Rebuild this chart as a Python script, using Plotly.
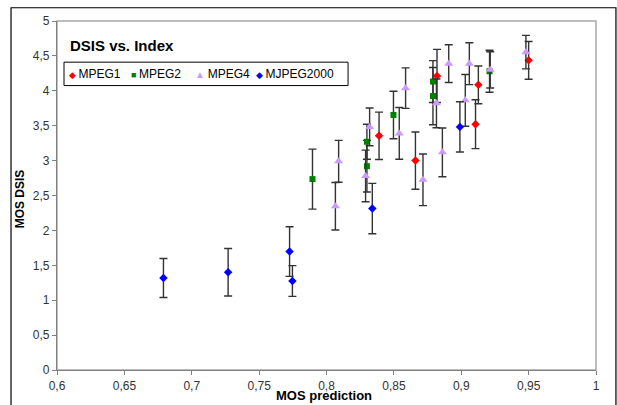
import plotly.graph_objects as go

# ---- data ----
mpeg1_x = [0.839, 0.866, 0.882, 0.9106, 0.9127, 0.950]
mpeg1_y = [3.355, 3.00, 4.213, 3.521, 4.085, 4.436]
mpeg1_e = [0.34, 0.41, 0.38, 0.35, 0.27, 0.27]

mpeg2_x = [0.7896, 0.830, 0.830, 0.8497, 0.879, 0.879, 0.921]
mpeg2_y = [2.735, 3.27, 2.92, 3.654, 4.133, 3.924, 4.28]
mpeg2_e = [0.43, 0.25, 0.37, 0.34, 0.30, 0.41, 0.30]

mpeg4_x = [0.8066, 0.809, 0.829, 0.832, 0.854, 0.8587, 0.8716, 0.8816,
           0.886, 0.8907, 0.903, 0.906, 0.9215, 0.948]
mpeg4_y = [2.346, 2.99, 2.78, 3.483, 3.39, 4.038, 2.725, 3.82,
           3.118, 4.389, 3.863, 4.389, 4.30, 4.554]
mpeg4_e = [0.34, 0.30, 0.37, 0.27, 0.37, 0.29, 0.37, 0.35,
           0.35, 0.27, 0.37, 0.30, 0.26, 0.24]

mj2k_x = [0.679, 0.727, 0.7726, 0.7747, 0.834, 0.899]
mj2k_y = [1.318, 1.40, 1.697, 1.275, 2.313, 3.483]
mj2k_e = [0.28, 0.34, 0.355, 0.22, 0.36, 0.36]

x_ticks = [0.6, 0.65, 0.7, 0.75, 0.8, 0.85, 0.9, 0.95, 1.0]
x_tick_labels = ["0,6", "0,65", "0,7", "0,75", "0,8", "0,85", "0,9", "0,95", "1"]
y_ticks = [0, 0.5, 1, 1.5, 2, 2.5, 3, 3.5, 4, 4.5, 5]
y_tick_labels = ["0", "0,5", "1", "1,5", "2", "2,5", "3", "3,5", "4", "4,5", "5"]

series = [
    ("MPEG1", mpeg1_x, mpeg1_y, mpeg1_e, "#FF0000", "diamond", 6.5),
    ("MPEG2", mpeg2_x, mpeg2_y, mpeg2_e, "#008000", "square", 6),
    ("MPEG4", mpeg4_x, mpeg4_y, mpeg4_e, "#CC99FF", "triangle-up", 8),
    ("MJPEG2000", mj2k_x, mj2k_y, mj2k_e, "#0000FF", "diamond", 6.5),
]
glyphs = {"diamond": "◆", "square": "■", "triangle-up": "▲"}

FONT = "Liberation Sans, Arial, sans-serif"

fig = go.Figure()
for name, xs, ys, es, col, sym, sz in series:
    fig.add_trace(go.Scatter(
        x=xs, y=ys, mode="markers", name=name, showlegend=False,
        marker=dict(color=col, symbol=sym, size=sz, line=dict(width=0)),
        error_y=dict(type="data", array=es, visible=True,
                     color="#333333", thickness=1.4, width=4),
    ))

# legend drawn as a boxed row of text entries
legend_x = [0.018, 0.134, 0.252, 0.365]
for (name, xs, ys, es, col, sym, sz), lx in zip(series, legend_x):
    fs = 10 if sym == "triangle-up" else 9
    fig.add_annotation(
        xref="paper", yref="paper", x=lx, y=0.848, xanchor="left", yanchor="middle",
        showarrow=False,
        text=f"<span style='color:{col};font-size:{fs}px'>{glyphs[sym]} </span>{name}",
        font=dict(family=FONT, size=12, color="#000000"),
    )
fig.add_shape(type="rect", xref="paper", yref="paper",
              x0=0.013, x1=0.540, y0=0.815, y1=0.882,
              line=dict(color="#000000", width=1), fillcolor="rgba(0,0,0,0)")

# title inside plot
fig.add_annotation(xref="paper", yref="paper", x=0.02, y=0.931, xanchor="left",
                   yanchor="middle", showarrow=False, text="<b>DSIS vs. Index</b>",
                   font=dict(family=FONT, size=15, color="#000000"))
# axis titles
fig.add_annotation(xref="paper", yref="paper", x=0.495, y=-0.074, xanchor="center",
                   yanchor="middle", showarrow=False, text="<b>MOS prediction</b>",
                   font=dict(family=FONT, size=13, color="#000000"))
fig.add_annotation(xref="paper", yref="paper", x=-0.068, y=0.49, xanchor="center",
                   yanchor="middle", showarrow=False, text="<b>MOS DSIS</b>", textangle=-90,
                   font=dict(family=FONT, size=12, color="#000000"))

# plot-area border (light gray) and outer frame (black)
fig.add_shape(type="rect", xref="paper", yref="paper", x0=0, x1=1, y0=0, y1=1,
              line=dict(color="#A8A8A8", width=1.5), layer="below")
fig.add_shape(type="rect", xref="paper", yref="paper",
              x0=-0.0853, x1=1.037, y0=-0.12, y1=1.038,
              line=dict(color="#000000", width=1.2))

axis_common = dict(showgrid=False, zeroline=False, showline=True,
                   linecolor="#808080", linewidth=1.2, ticks="outside",
                   ticklen=4, tickcolor="#808080",
                   tickfont=dict(family=FONT, size=12, color="#333333"))
fig.update_xaxes(range=[0.6, 1.0], tickvals=x_ticks, ticktext=x_tick_labels, **axis_common)
fig.update_yaxes(range=[0, 5], tickvals=y_ticks, ticktext=y_tick_labels, **axis_common)

fig.update_layout(
    width=617, height=405,
    margin=dict(l=57, r=21, t=21, b=32),
    paper_bgcolor="#FFFFFF", plot_bgcolor="#FFFFFF",
    font=dict(family=FONT),
)
fig.write_html("out.html")
